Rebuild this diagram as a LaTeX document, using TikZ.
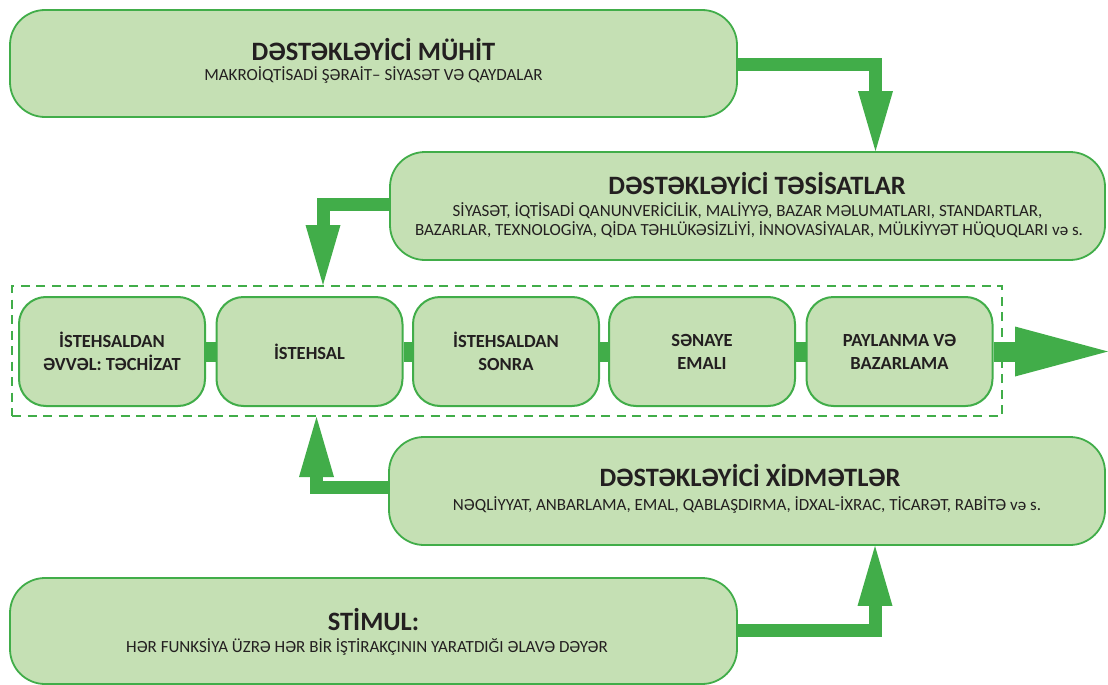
\documentclass[tikz,border=0pt]{standalone}
\usepackage{fontspec}
\setmainfont{Carlito}
\usetikzlibrary{arrows.meta}
\definecolor{gfill}{HTML}{C5E0B4}
\definecolor{gline}{HTML}{41AD49}
\definecolor{ink}{HTML}{231F20}
\tikzset{
  bigbox/.style={draw=gline, fill=gfill, line width=1.8pt, rounded corners=35pt,
    minimum width=727pt, minimum height=107pt, inner sep=0pt},
  chainbox/.style={draw=gline, fill=gfill, line width=2pt, rounded corners=27pt,
    minimum width=186pt, minimum height=109pt, inner sep=0pt, align=center, text=ink,
    font=\fontsize{18.5}{23}\selectfont\bfseries},
  frame/.style={draw=gline, dash pattern=on 9pt off 6.5pt, line width=2pt,
    minimum width=990pt, minimum height=130pt, inner sep=0pt},
  thickarrow/.style={draw=gline, line width=13pt, line join=miter,
    -{Triangle[length=60pt,width=35pt,line width=0pt]}},
  link/.style={draw=gline, line width=20pt},
  ttl/.style={anchor=base, inner sep=0pt, text=ink, font=\fontsize{26.5}{30}\selectfont\bfseries},
  sub/.style={anchor=base, inner sep=0pt, text=ink, font=\fontsize{17}{20}\selectfont},
}
\begin{document}
\begin{tikzpicture}[x=1pt,y=-1pt]
\useasboundingbox (0,0) rectangle (1108,685);
% big boxes
\node[bigbox] (env) at (373.5,63.5) {};
\node[ttl] (envT) at (373.5,60) {DƏSTƏKLƏYİCİ MÜHİT};
\node[sub] (envS) at (373.5,80.5) {MAKROİQTİSADİ ŞƏRAİT– SİYASƏT VƏ QAYDALAR};
\node[bigbox, minimum width=715pt, minimum height=108pt] (inst) at (747.5,206) {};
\node[ttl] (instT) at (757,194) {DƏSTƏKLƏYİCİ TƏSİSATLAR};
\node[sub] (instS1) at (747.5,216.5) {SİYASƏT, İQTİSADİ QANUNVERİCİLİK, MALİYYƏ, BAZAR MƏLUMATLARI, STANDARTLAR,};
\node[sub] (instS2) at (749,235.5) {BAZARLAR, TEXNOLOGİYA, QİDA TƏHLÜKƏSİZLİYİ, İNNOVASİYALAR, MÜLKİYYƏT HÜQUQLARI və s.};
\node[bigbox, minimum width=716pt, minimum height=108pt] (serv) at (747,491) {};
\node[ttl] (servT) at (750,486) {DƏSTƏKLƏYİCİ XİDMƏTLƏR};
\node[sub] (servS) at (747,510.5) {NƏQLİYYAT, ANBARLAMA, EMAL, QABLAŞDIRMA, İDXAL-İXRAC, TİCARƏT, RABİTƏ və s.};
\node[bigbox, minimum height=106pt] (stim) at (373.5,631) {};
\node[ttl] (stimT) at (373.5,630) {STİMUL:};
\node[sub] (stimS) at (367,652.5) {HƏR FUNKSİYA ÜZRƏ HƏR BİR İŞTİRAKÇININ YARATDIĞI ƏLAVƏ DƏYƏR};
% chain
\node[frame] (fr) at (507,351) {};
\node[chainbox] (c1) at (112,351.5) {İSTEHSALDAN\\ƏVVƏL: TƏCHİZAT};
\node[chainbox] (c2) at (309.5,351.5) {İSTEHSAL};
\node[chainbox] (c3) at (506,351.5) {İSTEHSALDAN\\SONRA};
\node[chainbox] (c4) at (702,351.5) {SƏNAYE\\EMALI};
\node[chainbox] (c5) at (899.5,351.5) {PAYLANMA VƏ\\BAZARLAMA};
\coordinate (out) at (1108,351.5);
\path[link] (c1.east) -- (c2.west);
\path[link] (c2.east) -- (c3.west);
\path[link] (c3.east) -- (c4.west);
\path[link] (c4.east) -- (c5.west);
\draw[draw=gline, line width=20pt, -{Triangle[length=93pt,width=50pt,line width=0pt]}] (c5.east) -- (out);
% connectors
\draw[thickarrow] ([yshift=-1.5pt]env.east) -| ([xshift=128pt]inst.north);
\draw[thickarrow] ([yshift=2pt]inst.west) -| ([xshift=-184pt]fr.north);
\draw[thickarrow] ([yshift=4pt]serv.west) -| ([xshift=-190.5pt]fr.south);
\draw[thickarrow] ([yshift=1pt]stim.east) -| ([xshift=128pt]serv.south);
\end{tikzpicture}
\end{document}
